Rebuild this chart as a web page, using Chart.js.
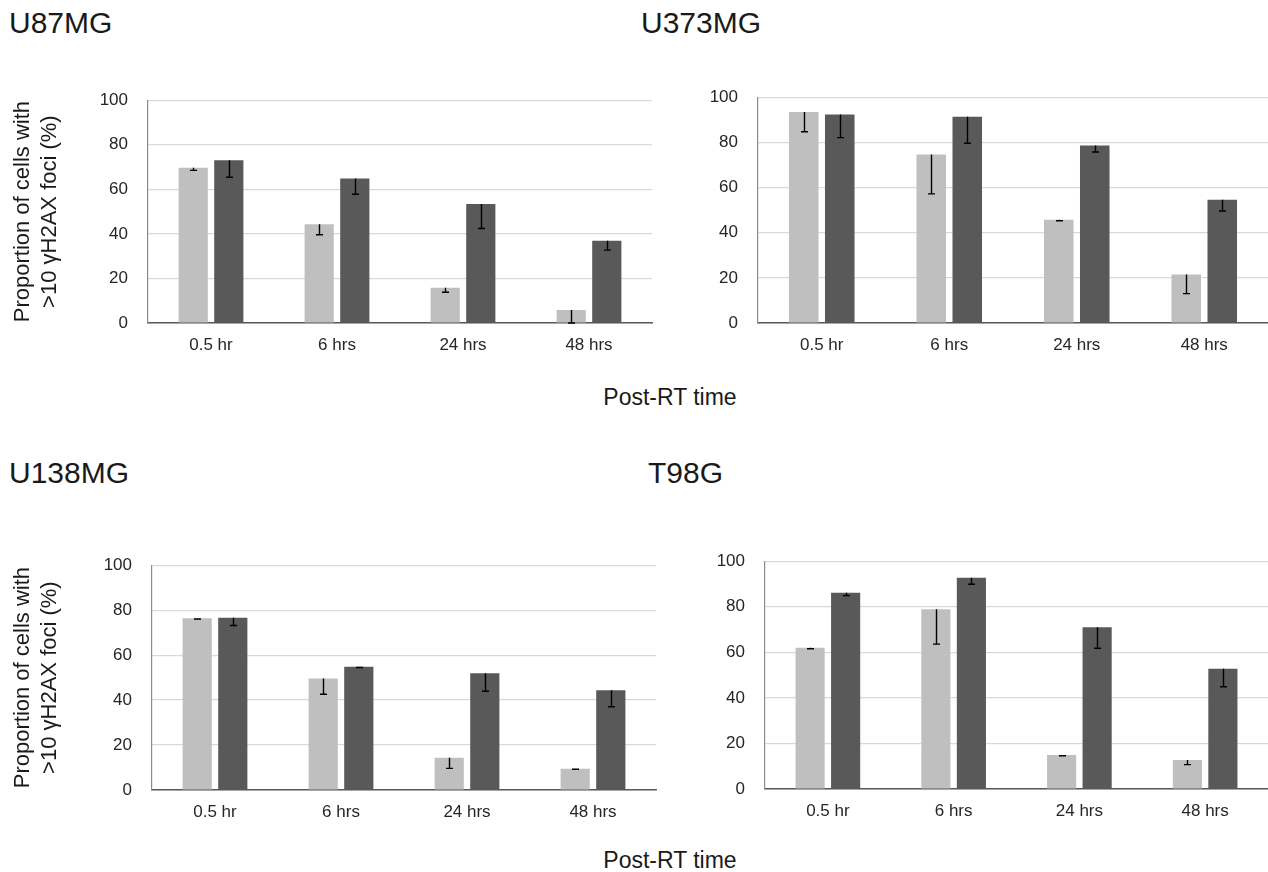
<!DOCTYPE html>
<html>
<head>
<meta charset="utf-8">
<script src="https://cdn.jsdelivr.net/npm/chart.js@4.4.1/dist/chart.umd.min.js"></script>
<style>
  html, body { margin: 0; padding: 0; background: #ffffff; }
  body { width: 1268px; height: 872px; position: relative; overflow: hidden; font-family: "Liberation Sans", Arial, sans-serif; }
  .ttl { position: absolute; font-size: 30px; line-height: 30px; color: #1a1a1a; white-space: nowrap; }
  .xt { position: absolute; font-size: 23px; line-height: 23px; color: #1a1a1a; white-space: nowrap; width: 300px; text-align: center; }
  canvas { position: absolute; }
</style>
</head>
<body>
<div class="ttl" style="left:9px; top:8px;">U87MG</div>
<div class="ttl" style="left:641px; top:8px;">U373MG</div>
<div class="ttl" style="left:9px; top:458px;">U138MG</div>
<div class="ttl" style="left:648px; top:458px;">T98G</div>
<div class="xt" style="left:520px; top:386px;">Post-RT time</div>
<div class="xt" style="left:520px; top:849px;">Post-RT time</div>

<canvas id="c1" width="660" height="300" style="left:0px; top:70px;"></canvas>
<canvas id="c2" width="628" height="303" style="left:640px; top:67px;"></canvas>
<canvas id="c3" width="664" height="302" style="left:0px; top:535px;"></canvas>
<canvas id="c4" width="628" height="305" style="left:640px; top:531px;"></canvas>

<script>
// ---- data ----
const timeLabels = ["0.5 hr", "6 hrs", "24 hrs", "48 hrs"];
const yTicks = [0, 20, 40, 60, 80, 100];
const yTitleLines = ["Proportion of cells with", ">10 \u03B3H2AX foci (%)"];

// U87MG
const u87Light = [69.7, 44.3, 15.8, 5.8];
const u87LightErr = [1.2, 4.7, 2.0, 5.8];
const u87Dark = [73.0, 64.9, 53.4, 36.9];
const u87DarkErr = [7.6, 7.1, 11.0, 4.2];

// U373MG
const u373Light = [93.4, 74.6, 45.7, 21.5];
const u373LightErr = [8.7, 17.4, 0.4, 8.5];
const u373Dark = [92.3, 91.3, 78.6, 54.6];
const u373DarkErr = [10.2, 11.7, 2.9, 5.0];

// U138MG
const u138Light = [76.4, 49.6, 14.4, 9.5];
const u138LightErr = [0.3, 7.0, 4.8, 0.3];
const u138Dark = [76.6, 54.8, 51.9, 44.4];
const u138DarkErr = [3.4, 0.3, 8.0, 7.4];

// T98G
const t98Light = [62.0, 78.9, 14.9, 12.7];
const t98LightErr = [0.4, 15.3, 0.3, 2.0];
const t98Dark = [86.2, 92.7, 71.0, 52.8];
const t98DarkErr = [1.3, 2.8, 9.2, 7.9];

const LIGHT = "#bfbfbf";
const DARK = "#595959";
const FONT = "'Liberation Sans', Arial, sans-serif";

// error bars: one-sided (downwards) with a cap at the lower end
const errorBarPlugin = {
  id: "errorBars",
  afterDatasetsDraw(chart) {
    const ctx = chart.ctx;
    const yScale = chart.scales.y;
    ctx.save();
    ctx.strokeStyle = "#000000";
    ctx.lineWidth = 1.4;
    chart.data.datasets.forEach((ds, i) => {
      const meta = chart.getDatasetMeta(i);
      meta.data.forEach((bar, j) => {
        const v = ds.data[j];
        const e = ds.errors[j];
        const yTop = yScale.getPixelForValue(v);
        const yBot = yScale.getPixelForValue(v - e);
        const x = Math.round(bar.x) + 0.5;
        ctx.beginPath();
        ctx.moveTo(x, yTop);
        ctx.lineTo(x, yBot);
        ctx.moveTo(x - 3.5, yBot);
        ctx.lineTo(x + 3.5, yBot);
        ctx.stroke();
      });
    });
    ctx.restore();
  }
};

function makeChart(id, light, lightErr, dark, darkErr, yWidth, xHeight, padRight, showTitle) {
  const ctx = document.getElementById(id).getContext("2d");
  return new Chart(ctx, {
    type: "bar",
    data: {
      labels: timeLabels,
      datasets: [
        { data: light, errors: lightErr, backgroundColor: LIGHT, borderWidth: 0,
          categoryPercentage: 0.565, barPercentage: 0.82 },
        { data: dark, errors: darkErr, backgroundColor: DARK, borderWidth: 0,
          categoryPercentage: 0.565, barPercentage: 0.82 }
      ]
    },
    options: {
      responsive: false,
      animation: false,
      events: [],
      layout: { padding: { top: 10, right: padRight, bottom: 0, left: 0 } },
      plugins: { legend: { display: false }, tooltip: { enabled: false }, title: { display: false } },
      scales: {
        x: {
          grid: { display: false, drawTicks: false },
          border: { display: true, color: "#595959", width: 1.5 },
          ticks: { color: "#262626", font: { family: FONT, size: 17 }, padding: 12, maxRotation: 0 },
          afterFit: (s) => { s.height = xHeight; }
        },
        y: {
          min: 0, max: 100,
          afterBuildTicks: (s) => { s.ticks = yTicks.map(v => ({ value: v })); },
          grid: { color: "#d9d9d9", lineWidth: 1.2, drawTicks: false },
          border: { display: true, color: "#8c8c8c", width: 1.2 },
          ticks: { color: "#262626", font: { family: FONT, size: 17 }, padding: 20 },
          title: {
            display: showTitle,
            text: yTitleLines,
            color: "#1a1a1a",
            font: { family: FONT, size: 22, lineHeight: 1.25 },
            padding: { top: 9, bottom: 0 }
          },
          afterFit: (s) => { s.width = yWidth; }
        }
      }
    },
    plugins: [errorBarPlugin]
  });
}

makeChart("c1", u87Light, u87LightErr, u87Dark, u87DarkErr, 148, 47, 8, true);
makeChart("c2", u373Light, u373LightErr, u373Dark, u373DarkErr, 118, 47, 0, false);
makeChart("c3", u138Light, u138LightErr, u138Dark, u138DarkErr, 152, 47, 8, true);
makeChart("c4", t98Light, t98LightErr, t98Dark, t98DarkErr, 125, 47, 0, false);
</script>
</body>
</html>
